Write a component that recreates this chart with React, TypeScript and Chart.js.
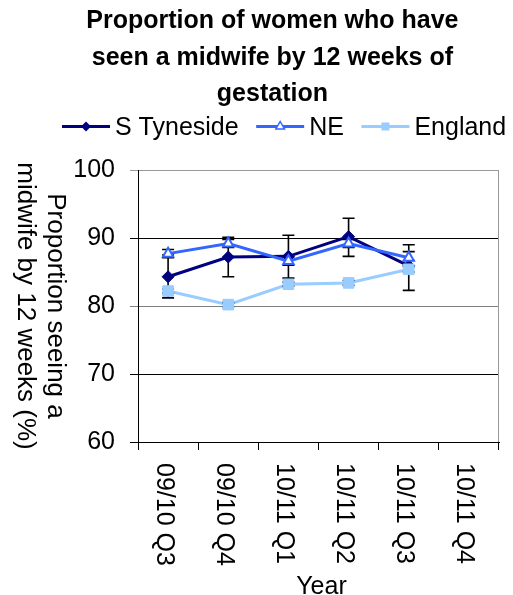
import React, { useEffect, useRef } from 'react';
import { Chart, registerables } from 'chart.js';

Chart.register(...registerables);

const TITLE_LINES = ['Proportion of women who have', 'seen a midwife by 12 weeks of', 'gestation'];
const Y_TITLE_LINES = ['Proportion seeing a', 'midwife by 12 weeks (%)'];
const X_TITLE = 'Year';
const CATEGORIES = ['09/10 Q3', '09/10 Q4', '10/11 Q1', '10/11 Q2', '10/11 Q3', '10/11 Q4'];
const SERIES_NAMES = ['S Tyneside', 'NE', 'England'];

const S_TYNESIDE = [84.3, 87.2, 87.3, 90.2, 85.9, null];
const S_TYNESIDE_LOW = [81.2, 84.3, 84.1, 87.3, 82.3, null];
const S_TYNESIDE_HIGH = [87.5, 90.1, 90.4, 92.9, 89.0, null];

const NE = [87.7, 89.2, 86.6, 89.2, 87.1, null];
const NE_LOW = [87.1, 88.6, 86.0, 88.6, 86.7, null];
const NE_HIGH = [88.3, 89.8, 87.2, 89.8, 88.0, null];

const ENGLAND = [82.2, 80.2, 83.2, 83.4, 85.4, null];
const ENGLAND_LOW = [81.9, 79.9, 82.9, 83.05, 85.0, null];
const ENGLAND_HIGH = [82.5, 80.5, 83.5, 83.75, 85.8, null];

const Y_MIN = 60;
const Y_MAX = 100;
const Y_STEP = 10;

const FONT = "'Liberation Sans', Arial, Helvetica, sans-serif";
const FS = 25;

const COLORS = ['#000080', '#3366FF', '#99CCFF'];
const STYLES = ['diamond', 'triangle', 'square'];

function drawMarker(ctx: CanvasRenderingContext2D, style: string, x: number, y: number, r: number, color: string) {
  ctx.save();
  ctx.beginPath();
  if (style === 'diamond') {
    ctx.moveTo(x, y - r);
    ctx.lineTo(x + r, y);
    ctx.lineTo(x, y + r);
    ctx.lineTo(x - r, y);
    ctx.closePath();
    ctx.fillStyle = color;
    ctx.fill();
  } else if (style === 'triangle') {
    ctx.moveTo(x, y - r);
    ctx.lineTo(x + r * 0.866, y + r * 0.5);
    ctx.lineTo(x - r * 0.866, y + r * 0.5);
    ctx.closePath();
    ctx.fillStyle = '#fff';
    ctx.fill();
    ctx.lineWidth = 1.5;
    ctx.strokeStyle = color;
    ctx.stroke();
  } else {
    ctx.rect(x - r, y - r, 2 * r, 2 * r);
    ctx.fillStyle = color;
    ctx.fill();
  }
  ctx.restore();
}

const textPlugin = {
  id: 'customText',
  afterDatasetDraw(chart: any, args: any) {
    // error bars drawn after the last line dataset, before markers
    if (args.index !== 5) return;
    const ctx = chart.ctx as CanvasRenderingContext2D;
    const xs = chart.scales.x;
    const ys = chart.scales.y;
    const bars = [
      [S_TYNESIDE_LOW, S_TYNESIDE_HIGH],
      [NE_LOW, NE_HIGH],
      [ENGLAND_LOW, ENGLAND_HIGH],
    ];
    ctx.save();
    ctx.strokeStyle = '#000';
    ctx.lineWidth = 1.6;
    bars.forEach(([lo, hi]) => {
      lo.forEach((l, i) => {
        const h = hi[i];
        if (l == null || h == null) return;
        const x = xs.getPixelForValue(i);
        const y1 = ys.getPixelForValue(l);
        const y2 = ys.getPixelForValue(h);
        ctx.beginPath();
        ctx.moveTo(x, y1);
        ctx.lineTo(x, y2);
        ctx.moveTo(x - 6, y1);
        ctx.lineTo(x + 6, y1);
        ctx.moveTo(x - 6, y2);
        ctx.lineTo(x + 6, y2);
        ctx.stroke();
      });
    });
    ctx.restore();
  },
  afterDraw(chart: any) {
    const ctx = chart.ctx as CanvasRenderingContext2D;
    const area = chart.chartArea;
    const xs = chart.scales.x;
    ctx.save();

    // plot frame: right border
    ctx.strokeStyle = '#999';
    ctx.lineWidth = 1;
    ctx.beginPath();
    const rx = Math.round(area.right) - 0.5;
    ctx.moveTo(rx, area.top);
    ctx.lineTo(rx, area.bottom);
    ctx.stroke();

    ctx.fillStyle = '#000';

    // title
    ctx.font = `bold ${FS}px ${FONT}`;
    ctx.textAlign = 'center';
    ctx.textBaseline = 'alphabetic';
    const titleCx = chart.width * 0.531;
    TITLE_LINES.forEach((line, i) => {
      ctx.fillText(line, titleCx, 28 + i * 36.5);
    });

    // legend
    ctx.font = `${FS}px ${FONT}`;
    ctx.textAlign = 'left';
    let lx = 62;
    const lineY = 126.5;
    SERIES_NAMES.forEach((name, i) => {
      ctx.strokeStyle = COLORS[i];
      ctx.lineWidth = 3;
      ctx.beginPath();
      ctx.moveTo(lx, lineY);
      ctx.lineTo(lx + 48, lineY);
      ctx.stroke();
      const mr = STYLES[i] === 'square' ? 4 : 5;
      drawMarker(ctx, STYLES[i], lx + 24, lineY, mr, COLORS[i]);
      ctx.fillStyle = '#000';
      ctx.fillText(name, lx + 53, 135);
      lx += 53 + ctx.measureText(name).width + 17.5;
    });

    // y axis title (rotated clockwise)
    ctx.save();
    ctx.font = `26px ${FONT}`;
    ctx.translate(48, (area.top + area.bottom) / 2);
    ctx.rotate(Math.PI / 2);
    ctx.textAlign = 'center';
    ctx.textBaseline = 'alphabetic';
    Y_TITLE_LINES.forEach((line, i) => {
      ctx.fillText(line, 0, i * 30.5);
    });
    ctx.restore();

    // x tick labels (rotated clockwise)
    CATEGORIES.forEach((label, i) => {
      const x = xs.getPixelForValue(i);
      ctx.save();
      ctx.translate(x - 11.5, area.bottom + 21);
      ctx.rotate(Math.PI / 2);
      ctx.textAlign = 'left';
      ctx.textBaseline = 'alphabetic';
      ctx.fillText(label, 0, 0);
      ctx.restore();
    });

    // x axis title
    ctx.textAlign = 'center';
    ctx.textBaseline = 'alphabetic';
    ctx.fillText(X_TITLE, (area.left + area.right) / 2 + 3, chart.height - 1);

    ctx.restore();
  },
};

export default function App() {
  const ref = useRef<HTMLCanvasElement | null>(null);

  useEffect(() => {
    if (!ref.current) return;
    Chart.defaults.font.family = FONT;
    const seriesData = [S_TYNESIDE, NE, ENGLAND];
    const markerDatasets = seriesData.map((d, i) => ({
      label: SERIES_NAMES[i] + ' markers',
      data: d,
      showLine: false,
      borderColor: COLORS[i],
      backgroundColor: i === 1 ? '#ffffff' : COLORS[i],
      pointStyle: i === 0 ? 'rectRot' : i === 1 ? 'triangle' : 'rect',
      pointRadius: i === 0 ? 6 : i === 1 ? 6 : 7.5,
      pointBorderWidth: i === 1 ? 2 : 1,
      order: 2 - i,
    }));
    const lineDatasets = seriesData.map((d, i) => ({
      label: SERIES_NAMES[i],
      data: d,
      borderColor: COLORS[i],
      backgroundColor: COLORS[i],
      borderWidth: 3,
      pointRadius: 0,
      tension: 0,
      spanGaps: false,
      order: 5 - i,
    }));
    const chart = new Chart(ref.current, {
      type: 'line',
      data: {
        labels: CATEGORIES,
        datasets: [...markerDatasets, ...lineDatasets] as any,
      },
      options: {
        responsive: false,
        animation: false,
        devicePixelRatio: 1,
        layout: { padding: { top: 170, right: 14, left: 0, bottom: 0 } },
        plugins: {
          legend: { display: false },
          title: { display: false },
          tooltip: { enabled: false },
        },
        scales: {
          x: {
            type: 'category',
            offset: true,
            grid: {
              display: true,
              offset: true,
              drawOnChartArea: false,
              drawTicks: true,
              tickLength: 8,
              color: '#000',
              lineWidth: 1,
            },
            border: { display: true, color: '#000', width: 1 },
            ticks: { display: false },
            afterFit: (s: any) => {
              s.height = 153;
            },
          },
          y: {
            min: Y_MIN,
            max: Y_MAX,
            ticks: {
              stepSize: Y_STEP,
              padding: 15,
              color: '#000',
              font: { size: FS, family: FONT },
            },
            grid: {
              color: (c: any) =>
                c.tick && c.tick.value === Y_MAX ? '#999' : c.tick && c.tick.value === 80 ? '#808080' : '#000',
              tickLength: 8,
              drawTicks: true,
              lineWidth: 1,
            },
            border: { display: true, color: '#000', width: 1 },
            afterFit: (s: any) => {
              s.width = 138;
            },
          },
        },
      },
      plugins: [textPlugin],
    });
    return () => chart.destroy();
  }, []);

  return (
    <div style={{ position: 'absolute', left: 0, top: 0, width: 513, height: 595, background: '#fff' }}>
      <canvas ref={ref} width={513} height={595} style={{ display: 'block' }} />
    </div>
  );
}
